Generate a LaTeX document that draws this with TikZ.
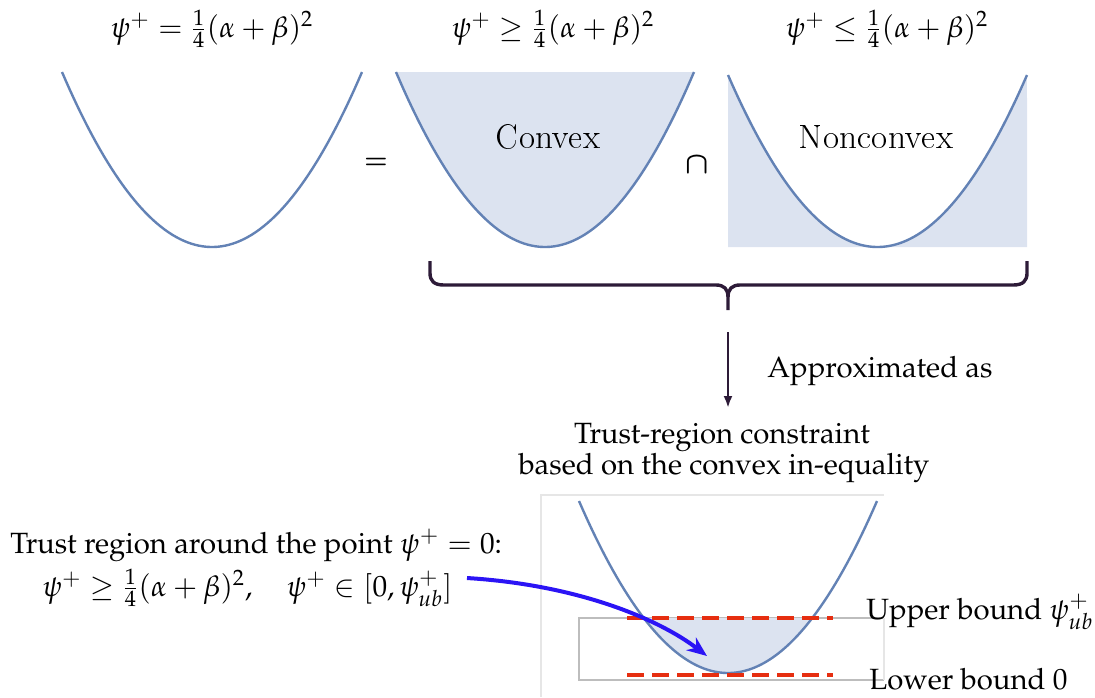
\documentclass[tikz,border=0pt]{standalone}
\usepackage[T1]{fontenc}
\usepackage{mathpazo}
\usepackage{bm}
\usetikzlibrary{arrows.meta}
\definecolor{curveblue}{HTML}{6382B5}
\definecolor{regionfill}{HTML}{DCE3F0}
\definecolor{bracecol}{HTML}{2D1B38}
\definecolor{arrowblue}{HTML}{2B14F5}
\definecolor{dashred}{HTML}{E62E10}
\definecolor{boxgray}{HTML}{BDBDBD}
\definecolor{framegray}{HTML}{E6E6E6}
\tikzset{
  txt/.style={font=\fontsize{14.65}{18}\selectfont, inner sep=0pt},
  cmtxt/.style={font=\fontfamily{lmr}\fontsize{18.3}{21}\selectfont, inner sep=0pt},
  optxt/.style={font=\fontsize{12.5}{15}\selectfont, inner sep=0pt},
  curve/.style={draw=curveblue, line width=1.2pt},
  region/.style={fill=regionfill},
  bracepath/.style={draw=bracecol, line width=1.7pt, line join=round},
  downarrow/.style={draw=bracecol, line width=1.2pt, -{Latex[length=6pt,width=4.5pt]}},
  bluearrow/.style={draw=arrowblue, line width=2pt, -{Stealth[length=10pt,width=8pt]}},
  bounddash/.style={draw=dashred, line width=2pt, dash pattern=on 8.5pt off 4pt},
}
\begin{document}
\begin{tikzpicture}[x=0.5pt,y=-0.5pt]
\useasboundingbox (0,0) rectangle (1095,697);

% top equations
\node[txt, anchor=base] (eqA) at (212,37) {$\psi^+ = \frac{1}{4}(\alpha+\beta)^2$};
\node[txt, anchor=base] (eqB) at (553,37) {$\psi^+ \geq \frac{1}{4}(\alpha+\beta)^2$};
\node[txt, anchor=base] (eqC) at (887,37) {$\psi^+ \leq \frac{1}{4}(\alpha+\beta)^2$};

% parabola 1
\draw[curve] plot[domain=-1:1, samples=80] ({212+150*\x},{247-175*\x*\x});

% parabola 2 (convex region)
\fill[region] plot[domain=-1:1, samples=80] ({545+149*\x},{247-175*\x*\x}) -- cycle;
\draw[curve] plot[domain=-1:1, samples=80] ({545+149*\x},{247-175*\x*\x});
\node[cmtxt, anchor=base] (convex) at (548,148) {Convex};

% parabola 3 (nonconvex region)
\fill[region] plot[domain=-1:1, samples=80] ({877.5+149.5*\x},{247-172*\x*\x}) -- (1027,247) -- (728,247) -- cycle;
\draw[curve] plot[domain=-1:1, samples=80] ({877.5+149.5*\x},{247-172*\x*\x});
\node[cmtxt, anchor=base] (nonconvex) at (876,148) {Nonconvex};

% operators
\node[optxt] (eqsign) at (376,163) {$\bm{=}$};
\node[txt] (capsign) at (697,165) {$\bm{\cap}$};

% brace
\coordinate (braceTip) at (728,310);
\draw[bracepath] (430,261) -- (430,273) .. controls (430,281) and (434,285) .. (444,285) -- (716,285)
  .. controls (724,285) and (728,289) .. (728,297) -- (braceTip);
\draw[bracepath] (1027,261) -- (1027,273) .. controls (1027,281) and (1023,285) .. (1013,285) -- (740,285)
  .. controls (732,285) and (728,289) .. (728,297);

% approximated arrow
\coordinate (apStart) at (728,332);
\coordinate (apEnd) at (728,408);
\draw[downarrow] (apStart) -- (apEnd);
\node[txt, anchor=base west] (approx) at (767,377) {Approximated as};

% trust-region title
\node[txt, anchor=base] (trA) at (722,443) {Trust-region constraint};
\node[txt, anchor=base] (trB) at (724,474) {based on the convex in-equality};

% bottom plot frame
\draw[framegray, line width=0.6pt] (541,697) -- (541,495) -- (884,495);
\draw[boxgray, line width=0.6pt] (884,618) -- (579,618) -- (579,680) -- (884,680);
\draw[framegray, line width=0.6pt] (884,618) -- (884,680);

% bottom parabola
\fill[region] plot[domain=-0.5655:0.5655, samples=60] ({728+149*\x},{673-172*\x*\x}) -- cycle;
\draw[curve] plot[domain=-1:1, samples=80] ({728+149*\x},{673-172*\x*\x});

% bounds
\coordinate (ubL) at (627,618);
\coordinate (ubR) at (833,618);
\coordinate (lbL) at (627,675);
\coordinate (lbR) at (833,675);
\draw[bounddash] (ubL) -- (ubR);
\draw[bounddash] (lbL) -- (lbR);
\node[txt, anchor=base west] (ubtext) at (866,619) {Upper bound $\psi^+_{ub}$};
\node[txt, anchor=base west] (lbtext) at (869,689) {Lower bound 0};

% left text
\node[txt, anchor=base west] (trustA) at (10,553) {Trust region around the point $\psi^+=0$:};
\node[txt, anchor=base west] (trustB) at (42,596) {$\psi^+ \geq \frac{1}{4}(\alpha+\beta)^2,\quad \psi^+\in[0,\psi^+_{ub}]$};

% blue arrow
\coordinate (blueStart) at (467,578);
\coordinate (blueEnd) at (707,656);
\draw[bluearrow] (blueStart) .. controls (580,585) and (660,620) .. (blueEnd);
\end{tikzpicture}
\end{document}
